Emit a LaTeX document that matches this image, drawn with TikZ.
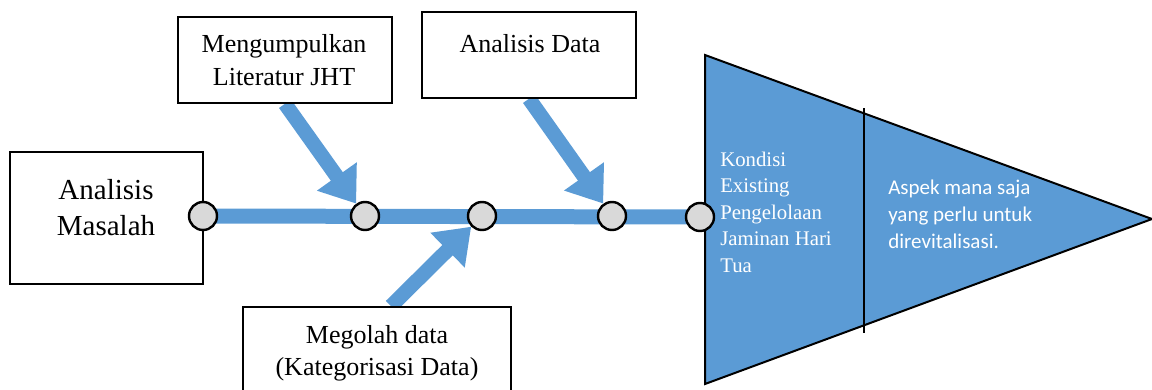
\documentclass[tikz,border=0pt]{standalone}
\usepackage{fontspec}
\setmainfont{Liberation Serif}
\newfontfamily\calibrifont{Carlito}
\usetikzlibrary{arrows.meta,backgrounds}
\definecolor{fishblue}{RGB}{91,155,213}
\definecolor{knotgray}{RGB}{217,217,217}
\newcommand\cstack[1]{\vtop{\halign{\hfil##\hfil\cr#1\crcr}}}
\newcommand\lstack[1]{\vtop{\halign{##\hfil\cr#1\crcr}}}
\begin{document}
\begin{tikzpicture}[x=0.75pt,y=-0.75pt,
  box/.style={draw=black,line width=1.1pt,fill=white,inner sep=0pt},
  knot/.style={circle,draw=black,line width=1.8pt,fill=knotgray,minimum size=21pt,inner sep=0pt},
  spine/.style={draw=fishblue,line width=11.25pt},
  bone/.style={draw=fishblue,line width=11pt,-{Triangle[length=25pt,width=35pt]}},
  head/.style={draw=black,line width=1.5pt,fill=fishblue,line join=miter},
  lbl/.style={anchor=base,inner sep=0pt},
  boxtext/.style={lbl,font=\fontsize{19.5}{24.75}\selectfont},
]
\useasboundingbox (0,0) rectangle (1152,389);
% boxes
\node[box,minimum width=144.75pt,minimum height=99pt] (AM) at (106.5,218) {};
\node[box,minimum width=160.5pt,minimum height=64.5pt] (LIT) at (285,60) {};
\node[box,minimum width=160.5pt,minimum height=64.5pt] (AD) at (529,55) {};
\node[box,minimum width=201pt,minimum height=64pt] (MD) at (377,349.5) {};
% fish head
\coordinate (tL) at (705,55);
\coordinate (tB) at (705,384);
\coordinate (tT) at (1152,219);
\draw[head] (tL) -- (tT) -- (tB) -- cycle;
\coordinate (dT) at (864,108);
\coordinate (dB) at (864,333);
\draw[black,line width=1.1pt] (dT) -- (dB);
% knots
\node[knot] (c0) at (203,216) {};
\node[knot] (c1) at (365,216) {};
\node[knot] (c2) at (482,216) {};
\node[knot] (c3) at (612,216) {};
\node[knot] (c4) at (700,217) {};
% spine and bones
\begin{pgfonlayer}{background}
\draw[spine] (c0.center) -- (c4.center);
\draw[bone] (LIT.south) -- (c1);
\draw[bone] (AD.south) -- (c3);
\draw[bone] ([xshift=10.5pt]MD.north) -- (c2);
\end{pgfonlayer}
% texts
\node[lbl,font=\fontsize{21.75}{27}\selectfont] (tAM) at (106,199) {\cstack{Analisis\cr Masalah}};
\node[boxtext] (tLIT) at (284,52) {\cstack{Mengumpulkan\cr Literatur JHT}};
\node[boxtext] (tAD) at (530,52) {Analisis Data};
\node[boxtext,font=\fontsize{19.5}{24}\selectfont] (tMD) at (377,343) {\cstack{Megolah data\cr (Kategorisasi Data)}};
\node[lbl,anchor=base west,text=white,font=\fontsize{15.6}{19.9}\selectfont] (tK) at (720,166)
  {\lstack{Kondisi\cr Existing\cr Pengelolaan\cr Jaminan Hari\cr Tua}};
\node[lbl,anchor=base west,text=white,font=\calibrifont\fontsize{15.75}{20.6}\selectfont] (tAs) at (888,194)
  {\lstack{Aspek mana saja\cr yang perlu untuk\cr direvitalisasi.}};
\end{tikzpicture}
\end{document}
